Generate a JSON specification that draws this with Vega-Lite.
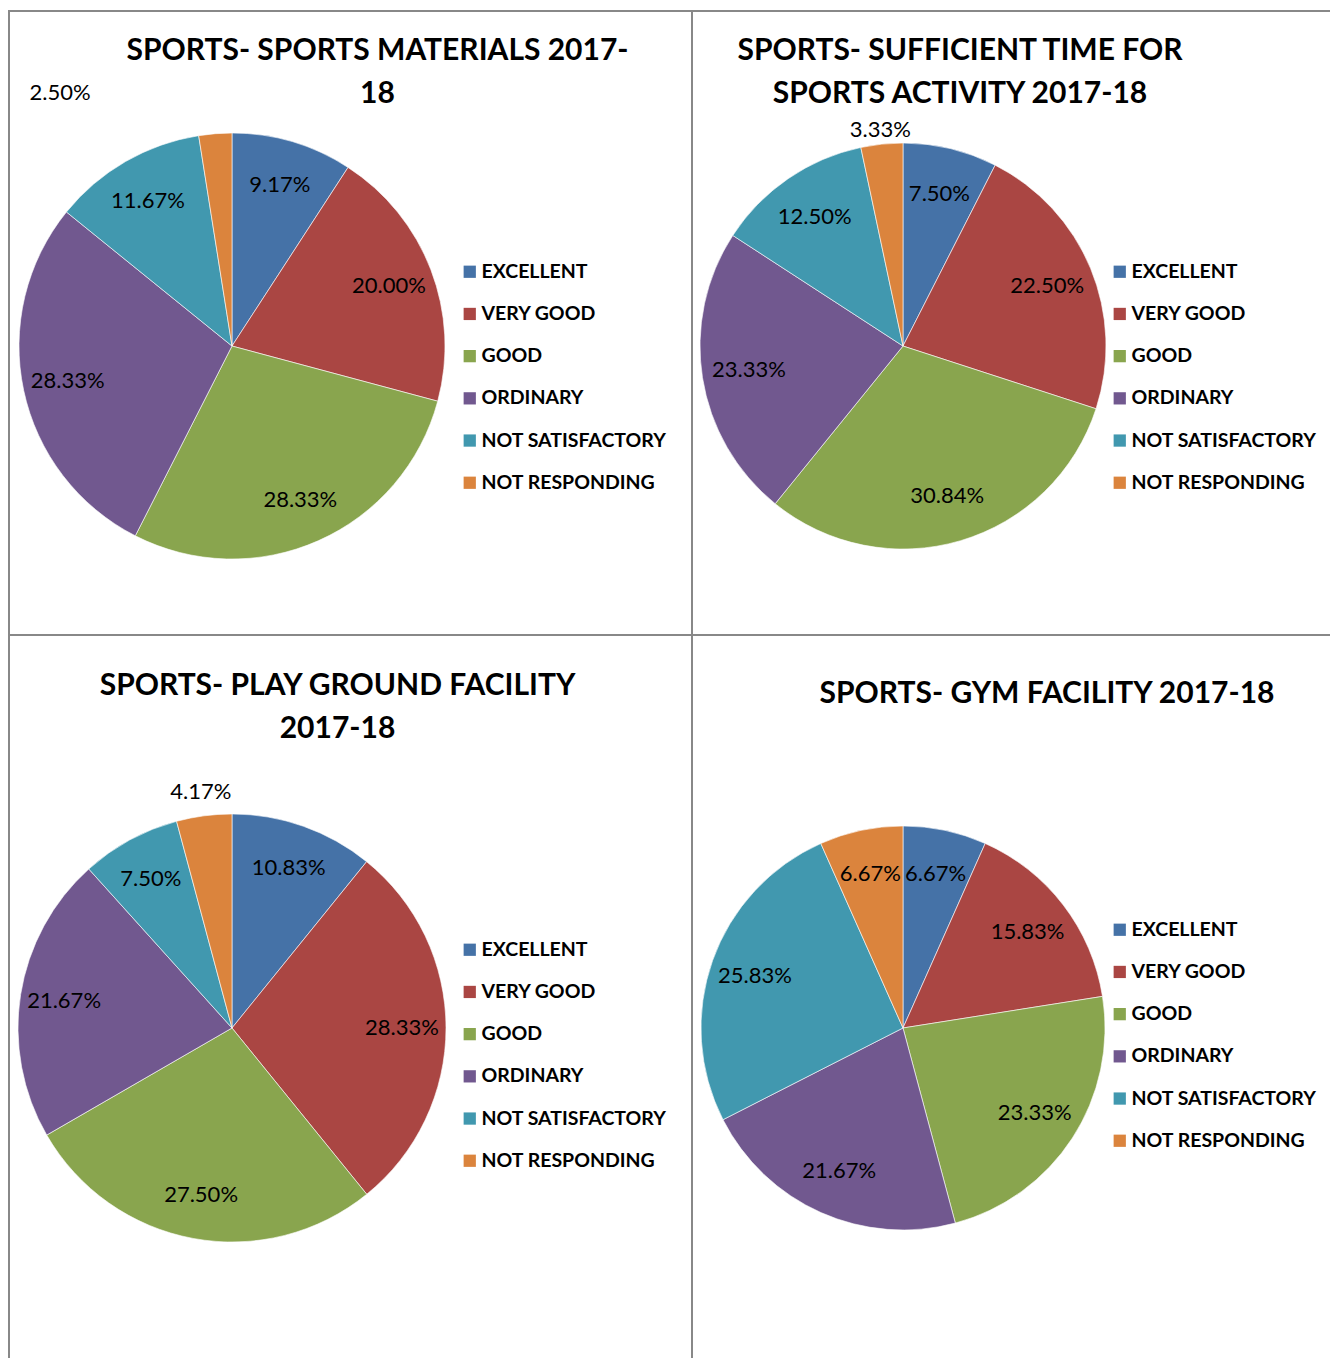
{
  "$schema": "https://vega.github.io/schema/vega-lite/v6.json",
  "background": "white",
  "padding": {"left": 8, "top": 10, "right": -2, "bottom": -2},
  "config": {
    "view": {"stroke": "#888888", "strokeWidth": 2},
    "font": "Lato",
    "title": {"font": "Lato", "fontWeight": "bold", "color": "black", "fontSize": 30, "lineHeight": 43, "anchor": "middle"},
    "legend": {"orient": "none", "title": null, "symbolType": "square", "symbolSize": 150, "symbolStrokeWidth": 0, "labelFont": "Lato", "labelFontSize": 19.5, "labelFontWeight": "bold", "labelColor": "black", "labelOffset": 2, "rowPadding": 21.2, "labelLimit": 400}
  },
  "datasets": {
    "d": [
      {"chart": "materials", "category": "EXCELLENT", "ord": 1, "value": 0.0917},
      {"chart": "materials", "category": "VERY GOOD", "ord": 2, "value": 0.2000},
      {"chart": "materials", "category": "GOOD", "ord": 3, "value": 0.2833},
      {"chart": "materials", "category": "ORDINARY", "ord": 4, "value": 0.2833},
      {"chart": "materials", "category": "NOT SATISFACTORY", "ord": 5, "value": 0.1167},
      {"chart": "materials", "category": "NOT RESPONDING", "ord": 6, "value": 0.0250},
      {"chart": "time", "category": "EXCELLENT", "ord": 1, "value": 0.0750},
      {"chart": "time", "category": "VERY GOOD", "ord": 2, "value": 0.2250},
      {"chart": "time", "category": "GOOD", "ord": 3, "value": 0.3084},
      {"chart": "time", "category": "ORDINARY", "ord": 4, "value": 0.2333},
      {"chart": "time", "category": "NOT SATISFACTORY", "ord": 5, "value": 0.1250},
      {"chart": "time", "category": "NOT RESPONDING", "ord": 6, "value": 0.0333},
      {"chart": "ground", "category": "EXCELLENT", "ord": 1, "value": 0.1083},
      {"chart": "ground", "category": "VERY GOOD", "ord": 2, "value": 0.2833},
      {"chart": "ground", "category": "GOOD", "ord": 3, "value": 0.2750},
      {"chart": "ground", "category": "ORDINARY", "ord": 4, "value": 0.2167},
      {"chart": "ground", "category": "NOT SATISFACTORY", "ord": 5, "value": 0.0750},
      {"chart": "ground", "category": "NOT RESPONDING", "ord": 6, "value": 0.0417},
      {"chart": "gym", "category": "EXCELLENT", "ord": 1, "value": 0.0667},
      {"chart": "gym", "category": "VERY GOOD", "ord": 2, "value": 0.1583},
      {"chart": "gym", "category": "GOOD", "ord": 3, "value": 0.2333},
      {"chart": "gym", "category": "ORDINARY", "ord": 4, "value": 0.2167},
      {"chart": "gym", "category": "NOT SATISFACTORY", "ord": 5, "value": 0.2583},
      {"chart": "gym", "category": "NOT RESPONDING", "ord": 6, "value": 0.0667}
    ]
  },
  "columns": 2,
  "align": "each",
  "bounds": "flush",
  "spacing": 0,
  "resolve": {"scale": {"color": "independent"}, "legend": {"color": "independent"}},
  "concat": [
    {
      "width": 683, "height": 624,
      "data": {"name": "d"},
      "transform": [{"filter": "datum.chart == 'materials'"}],
      "title": {"text": ["SPORTS- SPORTS MATERIALS 2017-", "18"], "dx": 27, "offset": -98},
      "encoding": {
        "theta": {"field": "value", "type": "quantitative", "stack": true, "scale": {"domain": [0, 1]}},
        "order": {"field": "ord", "type": "quantitative"},
        "x": {"datum": 0.3265, "type": "quantitative", "scale": {"domain": [0, 1]}, "axis": null},
        "y": {"datum": 0.5369, "type": "quantitative", "scale": {"domain": [0, 1], "reverse": true}, "axis": null}
      },
      "resolve": {"scale": {"theta": "independent"}},
      "layer": [
        {
          "mark": {"type": "arc", "outerRadius": 213, "stroke": "white", "strokeWidth": 0.6},
          "encoding": {
            "color": {"field": "category", "type": "nominal",
              "scale": {"domain": ["EXCELLENT", "VERY GOOD", "GOOD", "ORDINARY", "NOT SATISFACTORY", "NOT RESPONDING"], "range": ["#4572A7", "#AA4643", "#89A54E", "#71588F", "#4198AF", "#DB843D"]},
              "legend": {"legendX": 451, "legendY": 251}}
          }
        },
        {
          "transform": [{"filter": "datum.category != 'NOT RESPONDING'"}],
          "mark": {"type": "text", "radius": 168, "fontSize": 22, "fill": "black"},
          "encoding": {
            "detail": {"field": "category", "type": "nominal"},
            "text": {"field": "value", "type": "quantitative", "format": ".2%"}
          }
        },
        {
          "transform": [{"filter": "datum.category == 'NOT RESPONDING'"}],
          "mark": {"type": "text", "radius": 254, "dx": -152, "fontSize": 22, "fill": "black"},
          "encoding": {
            "theta": {"field": "value", "type": "quantitative", "stack": true, "scale": {"domain": [0, 1], "reverse": true}},
            "detail": {"field": "category", "type": "nominal"},
            "text": {"field": "value", "type": "quantitative", "format": ".2%"}
          }
        }
      ]
    },
    {
      "width": 639, "height": 624,
      "data": {"name": "d"},
      "transform": [{"filter": "datum.chart == 'time'"}],
      "title": {"text": ["SPORTS- SUFFICIENT TIME FOR", "SPORTS ACTIVITY 2017-18"], "dx": -51.5, "offset": -98},
      "encoding": {
        "theta": {"field": "value", "type": "quantitative", "stack": true, "scale": {"domain": [0, 1]}},
        "order": {"field": "ord", "type": "quantitative"},
        "x": {"datum": 0.3302, "type": "quantitative", "scale": {"domain": [0, 1]}, "axis": null},
        "y": {"datum": 0.5369, "type": "quantitative", "scale": {"domain": [0, 1], "reverse": true}, "axis": null}
      },
      "resolve": {"scale": {"theta": "independent"}},
      "layer": [
        {
          "mark": {"type": "arc", "outerRadius": 203, "stroke": "white", "strokeWidth": 0.6},
          "encoding": {
            "color": {"field": "category", "type": "nominal",
              "scale": {"domain": ["EXCELLENT", "VERY GOOD", "GOOD", "ORDINARY", "NOT SATISFACTORY", "NOT RESPONDING"], "range": ["#4572A7", "#AA4643", "#89A54E", "#71588F", "#4198AF", "#DB843D"]},
              "legend": {"legendX": 418, "legendY": 251}}
          }
        },
        {
          "transform": [{"filter": "datum.category != 'NOT RESPONDING'"}],
          "mark": {"type": "text", "radius": 156, "fontSize": 22, "fill": "black"},
          "encoding": {
            "detail": {"field": "category", "type": "nominal"},
            "text": {"field": "value", "type": "quantitative", "format": ".2%"}
          }
        },
        {
          "transform": [{"filter": "datum.category == 'NOT RESPONDING'"}],
          "mark": {"type": "text", "radius": 217, "fontSize": 22, "fill": "black"},
          "encoding": {
            "theta": {"field": "value", "type": "quantitative", "stack": true, "scale": {"domain": [0, 1], "reverse": true}},
            "detail": {"field": "category", "type": "nominal"},
            "text": {"field": "value", "type": "quantitative", "format": ".2%"}
          }
        }
      ]
    },
    {
      "width": 683, "height": 724,
      "data": {"name": "d"},
      "transform": [{"filter": "datum.chart == 'ground'"}],
      "title": {"text": ["SPORTS- PLAY GROUND FACILITY", "2017-18"], "dx": -13, "offset": -109},
      "encoding": {
        "theta": {"field": "value", "type": "quantitative", "stack": true, "scale": {"domain": [0, 1]}},
        "order": {"field": "ord", "type": "quantitative"},
        "x": {"datum": 0.3265, "type": "quantitative", "scale": {"domain": [0, 1]}, "axis": null},
        "y": {"datum": 0.5428, "type": "quantitative", "scale": {"domain": [0, 1], "reverse": true}, "axis": null}
      },
      "resolve": {"scale": {"theta": "independent"}},
      "layer": [
        {
          "mark": {"type": "arc", "outerRadius": 214, "stroke": "white", "strokeWidth": 0.6},
          "encoding": {
            "color": {"field": "category", "type": "nominal",
              "scale": {"domain": ["EXCELLENT", "VERY GOOD", "GOOD", "ORDINARY", "NOT SATISFACTORY", "NOT RESPONDING"], "range": ["#4572A7", "#AA4643", "#89A54E", "#71588F", "#4198AF", "#DB843D"]},
              "legend": {"legendX": 451, "legendY": 305}}
          }
        },
        {
          "transform": [{"filter": "datum.category != 'NOT RESPONDING'"}],
          "mark": {"type": "text", "radius": 170, "fontSize": 22, "fill": "black"},
          "encoding": {
            "detail": {"field": "category", "type": "nominal"},
            "text": {"field": "value", "type": "quantitative", "format": ".2%"}
          }
        },
        {
          "transform": [{"filter": "datum.category == 'NOT RESPONDING'"}],
          "mark": {"type": "text", "radius": 238, "fontSize": 22, "fill": "black"},
          "encoding": {
            "theta": {"field": "value", "type": "quantitative", "stack": true, "scale": {"domain": [0, 1], "reverse": true}},
            "detail": {"field": "category", "type": "nominal"},
            "text": {"field": "value", "type": "quantitative", "format": ".2%"}
          }
        }
      ]
    },
    {
      "width": 639, "height": 724,
      "data": {"name": "d"},
      "transform": [{"filter": "datum.chart == 'gym'"}],
      "title": {"text": "SPORTS- GYM FACILITY 2017-18", "dx": 35.5, "offset": -74},
      "encoding": {
        "theta": {"field": "value", "type": "quantitative", "stack": true, "scale": {"domain": [0, 1]}},
        "order": {"field": "ord", "type": "quantitative"},
        "x": {"datum": 0.3302, "type": "quantitative", "scale": {"domain": [0, 1]}, "axis": null},
        "y": {"datum": 0.5428, "type": "quantitative", "scale": {"domain": [0, 1], "reverse": true}, "axis": null}
      },
      "layer": [
        {
          "mark": {"type": "arc", "outerRadius": 202, "stroke": "white", "strokeWidth": 0.6},
          "encoding": {
            "color": {"field": "category", "type": "nominal",
              "scale": {"domain": ["EXCELLENT", "VERY GOOD", "GOOD", "ORDINARY", "NOT SATISFACTORY", "NOT RESPONDING"], "range": ["#4572A7", "#AA4643", "#89A54E", "#71588F", "#4198AF", "#DB843D"]},
              "legend": {"legendX": 418, "legendY": 285}}
          }
        },
        {
          "mark": {"type": "text", "radius": 157, "fontSize": 22, "fill": "black"},
          "encoding": {
            "detail": {"field": "category", "type": "nominal"},
            "text": {"field": "value", "type": "quantitative", "format": ".2%"}
          }
        }
      ]
    }
  ]
}
